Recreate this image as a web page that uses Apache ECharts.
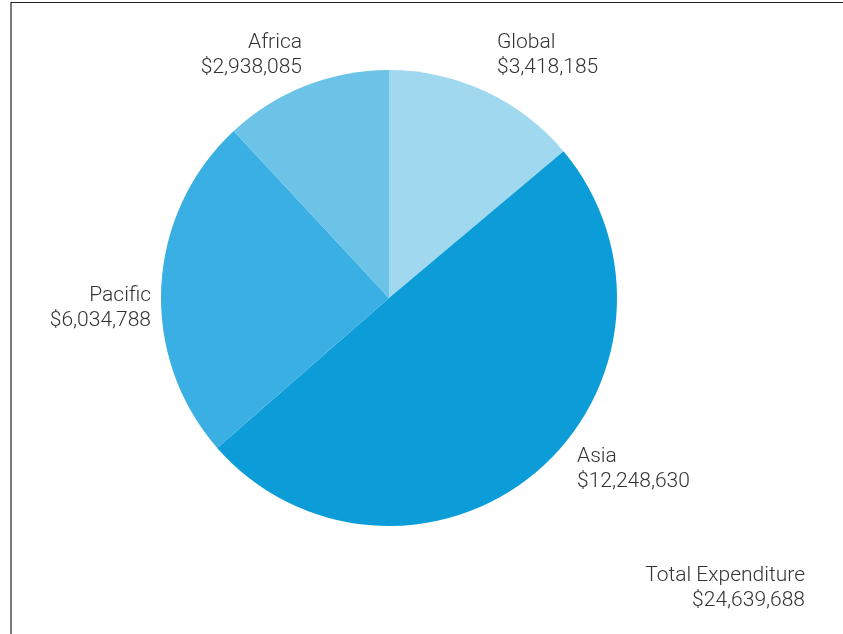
<!DOCTYPE html>
<html>
<head>
<meta charset="utf-8">
<script src="https://cdn.jsdelivr.net/npm/echarts@6/dist/echarts.min.js"></script>
<style>
  html, body { margin: 0; padding: 0; background: #fff; }
  #chart { width: 843px; height: 634px; }
</style>
</head>
<body>
<div id="chart"></div>
<script>
// Expenditure by region
const regions = ['Global', 'Asia', 'Pacific', 'Africa'];
const amounts = [3418185, 12248630, 6034788, 2938085];
const sliceColors = ['#a0d8f0', '#0c9dd9', '#3aafe3', '#6bc3e8'];
const totalLabel = 'Total Expenditure';

const fmt = v => '$' + v.toLocaleString('en-US');
const total = amounts.reduce((a, b) => a + b, 0);

// label anchor per region: [x, y, align]
const labelSpots = {
  Global: [497, 55, 'left'],
  Asia: [577, 469, 'left'],
  Pacific: [151, 308, 'right'],
  Africa: [302, 55, 'right']
};

const font = 'Roboto, "DejaVu Sans", sans-serif';
const chart = echarts.init(document.getElementById('chart'), null, { renderer: 'canvas' });

chart.setOption({
  animation: false,
  series: [{
    type: 'pie',
    center: [389, 298],
    radius: [0, 228],
    startAngle: 90,
    clockwise: true,
    silent: true,
    data: regions.map((r, i) => ({
      name: r,
      value: amounts[i],
      itemStyle: { color: sliceColors[i] }
    })),
    itemStyle: { borderWidth: 0 },
    label: {
      show: true,
      position: 'outside',
      formatter: p => p.name + '\n' + fmt(p.value),
      fontFamily: font,
      fontWeight: 300,
      fontSize: 21,
      lineHeight: 25,
      color: '#333'
    },
    labelLine: { show: false },
    labelLayout: params => {
      const s = labelSpots[regions[params.dataIndex]];
      return { x: s[0], y: s[1], align: s[2], verticalAlign: 'middle' };
    }
  }],
  graphic: [
    {
      type: 'polyline',
      shape: { points: [[11, 634], [11, 2.5], [843, 2.5]] },
      style: { stroke: '#222', lineWidth: 1.2, fill: null },
      silent: true
    },
    {
      type: 'text',
      x: 805,
      y: 588,
      style: {
        text: totalLabel + '\n' + fmt(total),
        align: 'right',
        verticalAlign: 'middle',
        font: '300 21px ' + font,
        lineHeight: 25,
        fill: '#333'
      },
      silent: true
    }
  ]
});
</script>
</body>
</html>
